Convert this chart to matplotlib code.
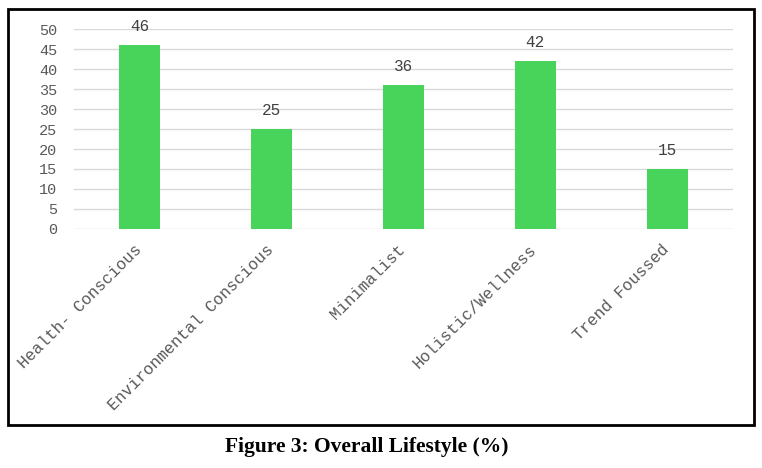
import matplotlib
matplotlib.use("Agg")
from matplotlib import pyplot as plt
from matplotlib.patches import Rectangle
import matplotlib.transforms as mtransforms

categories = ["Health- Conscious", "Environmental Conscious", "Minimalist",
              "Holistic/Wellness", "Trend Foussed"]
values = [46, 25, 36, 42, 15]
yticks = list(range(0, 51, 5))

fig = plt.figure(figsize=(7.62, 4.68), dpi=100)
ax = fig.add_axes([0.0971, 0.5107, 0.8649, 0.4273])

bars = ax.bar(range(len(categories)), values, width=0.31, color="#48D35A", zorder=3)
ax.set_xlim(-0.5, len(categories) - 0.5)
ax.set_ylim(0, 50)
ax.set_yticks(yticks)
ax.yaxis.grid(True, color="#d9d9d9", linewidth=1, zorder=0)
for s in ax.spines.values():
    s.set_visible(False)
ax.tick_params(length=0, colors="#595959")
ax.tick_params(axis="y", pad=12)

ax.set_xticks(range(len(categories)))
ax.set_xticklabels(categories, rotation=45, ha="right", rotation_mode="anchor",
                   family="Liberation Mono", fontsize=11.8, color="#595959")
# nudge the slanted labels a little left and down
shift = mtransforms.ScaledTranslation(-0.06, -0.08, fig.dpi_scale_trans)
for lbl in ax.get_xticklabels():
    lbl.set_transform(lbl.get_transform() + shift)
for lbl in ax.get_yticklabels():
    lbl.set_family("Liberation Mono")
    lbl.set_fontsize(11)

# value labels on top of the bars
for rect, v in zip(bars, values):
    ax.annotate(str(v), (rect.get_x() + rect.get_width() / 2, v),
                xytext=(0, 8), textcoords="offset points", ha="center", va="bottom",
                family="Liberation Mono", fontsize=11.5, color="#404040")

# black frame around the chart
fig.patches.append(Rectangle((8 / 762, 1 - 425 / 468), 746 / 762, 416 / 468,
                             transform=fig.transFigure, fill=False,
                             edgecolor="black", linewidth=2))

fig.text(367 / 762, 1 - 447 / 468, "Figure 3: Overall Lifestyle (%)",
         ha="center", va="center", family="Liberation Serif",
         fontweight="bold", fontsize=15.5)

plt.savefig("out.png", dpi=100)
